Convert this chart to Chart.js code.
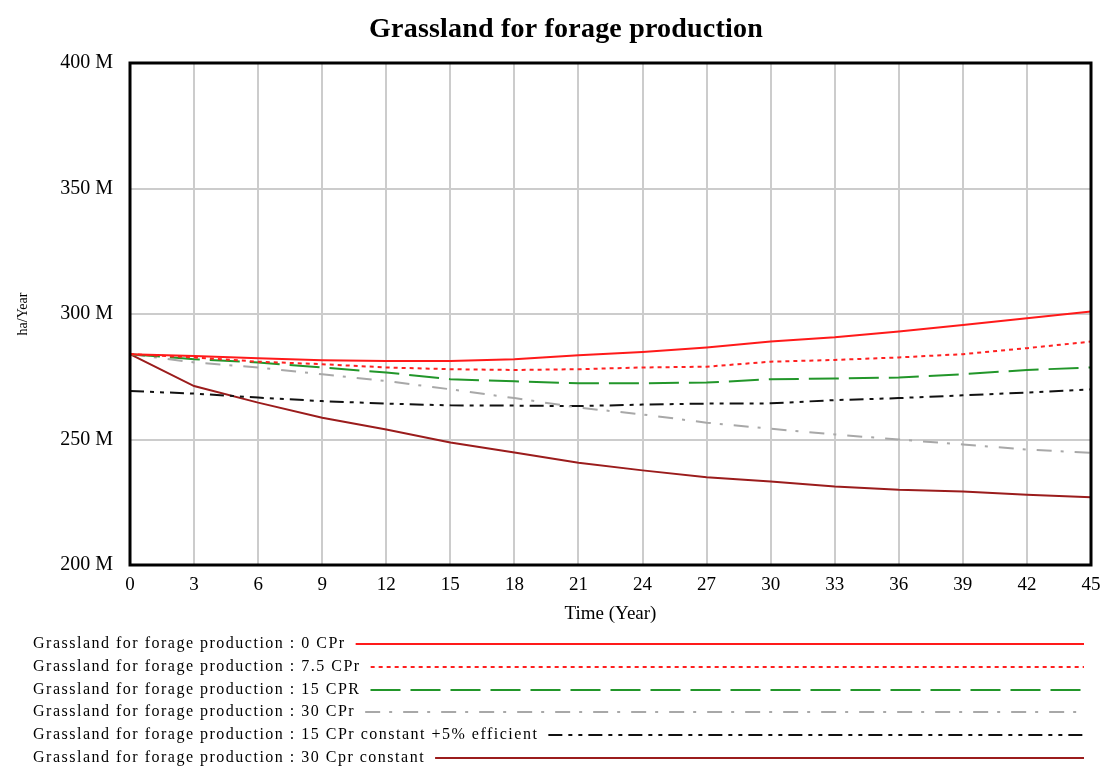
<!DOCTYPE html>
<html>
<head>
<meta charset="utf-8">
<title>Grassland for forage production</title>
<script src="https://cdn.jsdelivr.net/npm/chart.js@4"></script>
<style>
  body { margin: 0; background: #fff; }
</style>
</head>
<body>
<canvas id="my-chart" width="1101" height="769"></canvas>
<script>
// years on the time axis
const years = [0, 3, 6, 9, 12, 15, 18, 21, 24, 27, 30, 33, 36, 39, 42, 45];

// values in millions of ha/Year
const cpr0 = [284, 283.3, 282.4, 281.6, 281.3, 281.3, 282, 283.6, 284.9, 286.7, 289, 290.7, 293, 295.6, 298.3, 301];
const cpr75 = [284, 282.7, 281, 280, 278.7, 278, 277.7, 278, 278.7, 279, 281, 281.7, 282.7, 284, 286.4, 289];
const cpr15 = [284, 282, 280.7, 278.7, 276.7, 274, 273.2, 272.4, 272.4, 272.7, 274, 274.3, 274.7, 276, 277.7, 278.7];
const cpr30 = [284, 280.7, 278.7, 276, 273.3, 270, 266.5, 262.7, 260, 256.7, 254.3, 252, 250, 248, 246, 244.7];
const cpr15const = [269.3, 268.3, 266.7, 265.3, 264.3, 263.6, 263.5, 263.3, 263.9, 264.3, 264.4, 265.7, 266.5, 267.6, 268.7, 270];
const cpr30const = [284, 271.3, 264.7, 258.7, 254, 248.8, 244.8, 240.7, 237.7, 235, 233.3, 231.3, 230, 229.3, 228, 227];

const yTicks = [200, 250, 300, 350, 400];

const seriesNames = [
  'Grassland for forage production : 0 CPr',
  'Grassland for forage production : 7.5 CPr',
  'Grassland for forage production : 15 CPR',
  'Grassland for forage production : 30 CPr',
  'Grassland for forage production : 15 CPr constant +5% efficient',
  'Grassland for forage production : 30 Cpr constant'
];
const seriesValues = [cpr0, cpr75, cpr15, cpr30, cpr15const, cpr30const];
const seriesColors = ['#ff1a1a', '#ff2020', '#22962a', '#a8a8a8', '#111111', '#9b1c1c'];
const seriesDash = [[], [4, 4], [30, 10], [15, 9, 3, 11], [14, 6, 4, 6, 4, 6], []];

const datasets = seriesNames.map((name, i) => ({
  label: name,
  data: years.map((t, j) => ({ x: t, y: seriesValues[i][j] })),
  borderColor: seriesColors[i],
  borderDash: seriesDash[i],
  borderWidth: 2,
  pointRadius: 0,
  tension: 0,
  fill: false
}));

// title, frame round the plot and a Vensim style legend under the axis
const framePlugin = {
  id: 'frame',
  afterDraw(chart) {
    const ctx = chart.ctx;
    const a = chart.chartArea;
    ctx.save();
    ctx.strokeStyle = '#000';
    ctx.lineWidth = 3;
    ctx.strokeRect(a.left, a.top, a.right - a.left, a.bottom - a.top);

    ctx.fillStyle = '#000';
    ctx.textBaseline = 'middle';
    ctx.textAlign = 'center';
    ctx.font = 'bold 28px "Liberation Serif"';
    ctx.letterSpacing = '0.2px';
    ctx.fillText('Grassland for forage production', 566, 30);

    ctx.textAlign = 'left';
    ctx.font = '16px "Liberation Serif"';
    ctx.letterSpacing = '1.5px';
    const rowY = [644, 667, 690, 712, 735, 758];
    chart.data.datasets.forEach((ds, i) => {
      const y = rowY[i];
      ctx.fillText(ds.label, 33, y);
      const w = ctx.measureText(ds.label).width;
      ctx.beginPath();
      ctx.setLineDash(ds.borderDash);
      ctx.strokeStyle = ds.borderColor;
      ctx.lineWidth = 2;
      ctx.moveTo(33 + w + 10, y);
      ctx.lineTo(1084, y);
      ctx.stroke();
    });
    ctx.restore();
  }
};

const ctx = document.getElementById('my-chart').getContext('2d');
const chart = new Chart(ctx, {
  type: 'line',
  data: { datasets: datasets },
  options: {
    responsive: false,
    animation: false,
    layout: { padding: { left: 0, right: 0, top: 63, bottom: 139 } },
    plugins: {
      legend: { display: false },
      tooltip: { enabled: false },
      title: { display: false }
    },
    scales: {
      x: {
        type: 'linear',
        min: 0,
        max: 45,
        ticks: {
          stepSize: 3,
          color: '#000',
          padding: 9,
          font: { family: '"Liberation Serif"', size: 19 }
        },
        grid: { color: '#cccccc', lineWidth: 2, drawTicks: false },
        border: { display: false },
        title: {
          display: true,
          text: 'Time (Year)',
          color: '#000',
          font: { family: '"Liberation Serif"', size: 19 },
          padding: { top: 2, bottom: 5 }
        },
        afterFit(scale) {
          scale.height = 65;
          scale.paddingRight = 10;
        }
      },
      y: {
        min: 200,
        max: 400,
        afterBuildTicks(scale) { scale.ticks = yTicks.map(v => ({ value: v })); },
        ticks: {
          color: '#000',
          padding: 17,
          font: { family: '"Liberation Serif"', size: 20 },
          callback: v => v + ' M'
        },
        grid: { color: '#cccccc', lineWidth: 2, drawTicks: false },
        border: { display: false },
        title: {
          display: true,
          text: 'ha/Year',
          color: '#000',
          font: { family: '"Liberation Serif"', size: 14 },
          padding: { top: 15, bottom: 0 }
        },
        afterFit(scale) { scale.width = 130; }
      }
    }
  },
  plugins: [framePlugin]
});
</script>
</body>
</html>
